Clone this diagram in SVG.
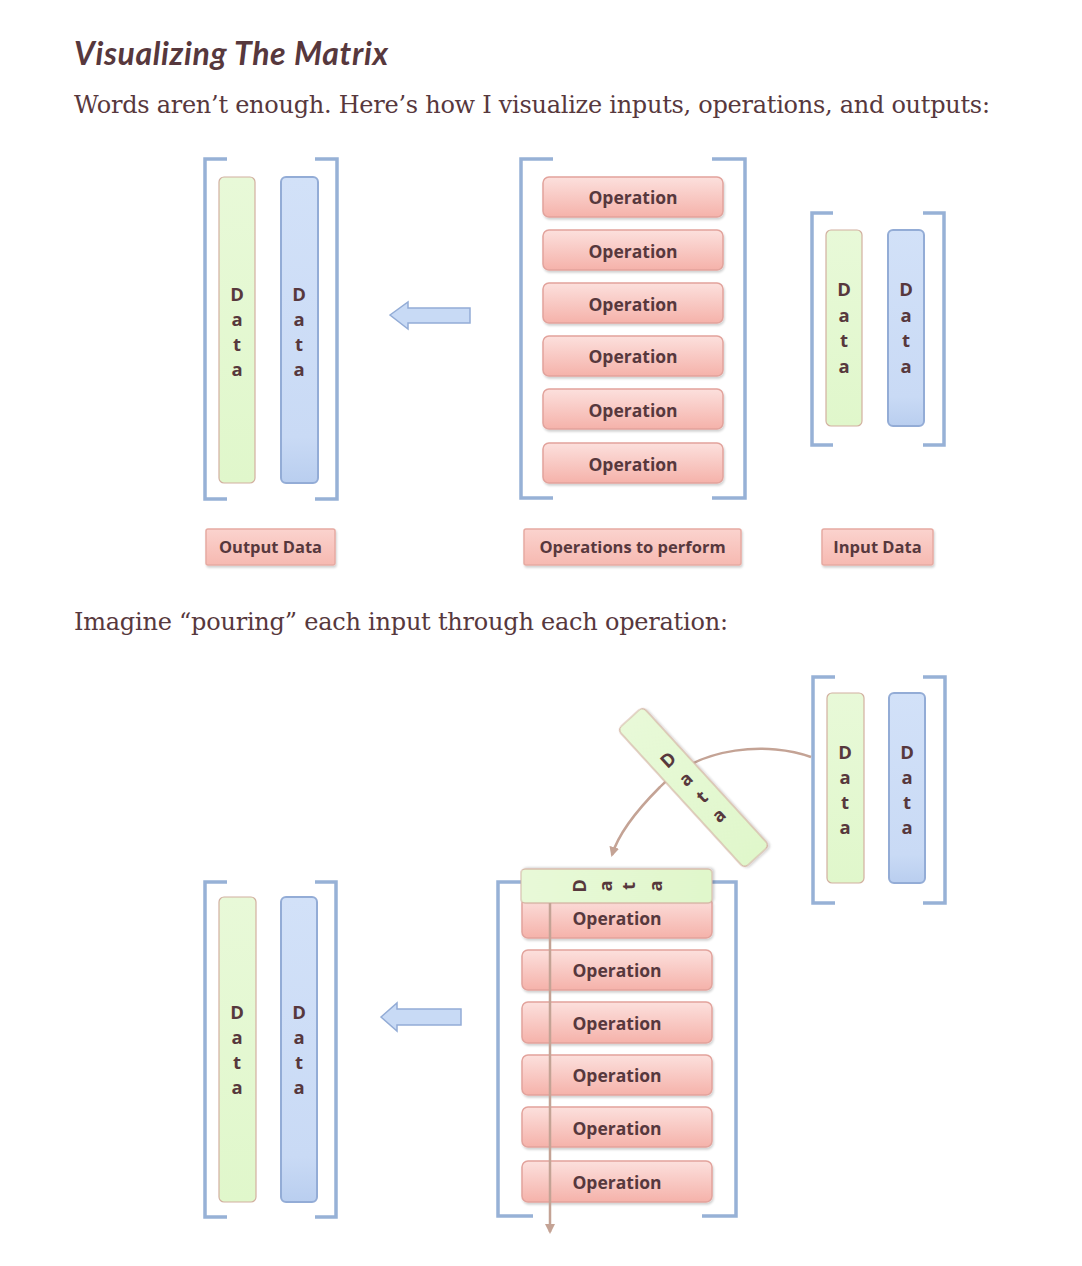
<svg xmlns="http://www.w3.org/2000/svg" width="1082" height="1266" viewBox="0 0 1082 1266">
<defs>
<linearGradient id="opg" x1="0" y1="0" x2="0" y2="1">
<stop offset="0" stop-color="#fce0dd"/><stop offset="1" stop-color="#f5b2aa"/>
</linearGradient>
<linearGradient id="lbg" x1="0" y1="0" x2="0" y2="1">
<stop offset="0" stop-color="#fbd3ce"/><stop offset="1" stop-color="#f6b9b1"/>
</linearGradient>
<linearGradient id="blg" x1="0" y1="0" x2="0" y2="1">
<stop offset="0" stop-color="#d2e1f8"/><stop offset="0.85" stop-color="#c9daf5"/><stop offset="1" stop-color="#b9ceef"/>
</linearGradient>
<linearGradient id="grg" x1="0" y1="0" x2="0" y2="1">
<stop offset="0" stop-color="#e8f9d8"/><stop offset="1" stop-color="#e0f7cb"/>
</linearGradient>
<filter id="sh" x="-20%" y="-20%" width="140%" height="140%">
<feDropShadow dx="1" dy="2" stdDeviation="1.2" flood-color="#000" flood-opacity="0.18"/>
</filter>
<marker id="ah" viewBox="0 0 10 10" refX="8" refY="5" markerWidth="4" markerHeight="4" orient="auto" markerUnits="strokeWidth">
<path d="M0,0 L10,5 L0,10 z" fill="#c4a395"/>
</marker>
</defs>
<style>
.h1{font-family:Lato,"Open Sans","Liberation Sans",sans-serif;font-style:italic;font-weight:700;font-size:32px;fill:#57383d}
.p{font-family:"DejaVu Serif","Liberation Serif",serif;font-size:24px;fill:#57383d}
.brk{fill:none;stroke:#97b1d6;stroke-width:3.5}
.grn{fill:url(#grg);stroke:#d2b0a0;stroke-width:1.2}
.blu{fill:url(#blg);stroke:#93acd6;stroke-width:2}
.op{fill:url(#opg);stroke:#e2a39c;stroke-width:1.5;filter:url(#sh)}
.lb{fill:url(#lbg);stroke:#e6aaa2;stroke-width:1.5;filter:url(#sh)}
.t{font-family:"Open Sans","Liberation Sans",sans-serif;font-weight:700;font-size:17.5px;fill:#57383d;text-anchor:middle}
.d{font-family:"Open Sans","Liberation Sans",sans-serif;font-weight:700;font-size:18.5px;fill:#57383d;text-anchor:middle}
.lt{font-family:"Open Sans","Liberation Sans",sans-serif;font-weight:700;font-size:16.5px;fill:#57383d;text-anchor:middle}
.arr{fill:#c8daf5;stroke:#93acd6;stroke-width:1.5}
.con{fill:none;stroke:#c4a395;stroke-width:2.5}
</style>
<rect width="1082" height="1266" fill="#ffffff"/>

<text class="h1" x="74" y="65" textLength="314">Visualizing The Matrix</text>
<text class="p" x="74" y="113" textLength="916">Words aren’t enough. Here’s how I visualize inputs, operations, and outputs:</text>
<text class="p" x="74" y="630" textLength="654">Imagine “pouring” each input through each operation:</text>

<!-- Top: output data -->
<g id="top-output">
<path class="brk" d="M227,159 H205 V499 H227"/>
<path class="brk" d="M315,159 H337 V499 H315"/>
<rect class="grn" x="219" y="177" width="36" height="306" rx="5"/>
<rect class="blu" x="281" y="177" width="37" height="306" rx="5"/>
<text class="d" x="237" y="301">D<tspan x="237" dy="25">a</tspan><tspan x="237" dy="25">t</tspan><tspan x="237" dy="25">a</tspan></text>
<text class="d" x="299" y="301">D<tspan x="299" dy="25">a</tspan><tspan x="299" dy="25">t</tspan><tspan x="299" dy="25">a</tspan></text>
</g>
<g id="top-arrow">
<polygon class="arr" points="390,315 408,302 408,308 470,308 470,323 408,323 408,329"/>
</g>

<!-- Top: operations -->
<g id="top-operations">
<path class="brk" d="M553,159 H521 V498 H553"/>
<path class="brk" d="M712,159 H745 V498 H712"/>
<rect class="op" x="543" y="177" width="180" height="40" rx="6"/>
<rect class="op" x="543" y="230" width="180" height="40" rx="6"/>
<rect class="op" x="543" y="283" width="180" height="40" rx="6"/>
<rect class="op" x="543" y="336" width="180" height="40" rx="6"/>
<rect class="op" x="543" y="389" width="180" height="40" rx="6"/>
<rect class="op" x="543" y="443" width="180" height="40" rx="6"/>
<text class="t" x="633" y="204">Operation</text>
<text class="t" x="633" y="258">Operation</text>
<text class="t" x="633" y="311">Operation</text>
<text class="t" x="633" y="363">Operation</text>
<text class="t" x="633" y="417">Operation</text>
<text class="t" x="633" y="471">Operation</text>
</g>

<!-- Top: input data -->
<g id="top-input">
<path class="brk" d="M833,213 H812 V445 H833"/>
<path class="brk" d="M923,213 H944 V445 H923"/>
<rect class="grn" x="826" y="230" width="36" height="196" rx="5"/>
<rect class="blu" x="888" y="230" width="36" height="196" rx="5"/>
<text class="d" x="844" y="296">D<tspan x="844" dy="25.5">a</tspan><tspan x="844" dy="25.5">t</tspan><tspan x="844" dy="25.5">a</tspan></text>
<text class="d" x="906" y="296">D<tspan x="906" dy="25.5">a</tspan><tspan x="906" dy="25.5">t</tspan><tspan x="906" dy="25.5">a</tspan></text>
</g>

<!-- Labels -->
<g id="label-output">
<rect class="lb" x="206" y="529" width="129" height="36" rx="2"/>
<text class="lt" x="270.5" y="553">Output Data</text>
</g>
<g id="label-operations">
<rect class="lb" x="524" y="529" width="217" height="36" rx="2"/>
<text class="lt" x="632.5" y="553">Operations to perform</text>
</g>
<g id="label-input">
<rect class="lb" x="822" y="529" width="111" height="36" rx="2"/>
<text class="lt" x="877.5" y="553">Input Data</text>
</g>

<!-- Bottom: output data -->
<g id="bottom-output">
<path class="brk" d="M227,882 H205 V1217 H227"/>
<path class="brk" d="M315,882 H336 V1217 H315"/>
<rect class="grn" x="219" y="897" width="37" height="305" rx="5"/>
<rect class="blu" x="281" y="897" width="36" height="305" rx="5"/>
<text class="d" x="237" y="1019">D<tspan x="237" dy="25">a</tspan><tspan x="237" dy="25">t</tspan><tspan x="237" dy="25">a</tspan></text>
<text class="d" x="299" y="1019">D<tspan x="299" dy="25">a</tspan><tspan x="299" dy="25">t</tspan><tspan x="299" dy="25">a</tspan></text>
</g>
<g id="bottom-arrow">
<polygon class="arr" points="381,1017 397,1003 397,1009 461,1009 461,1025 397,1025 397,1031"/>
</g>

<!-- Bottom: input data -->
<g id="bottom-input">
<path class="brk" d="M835,677 H813 V903 H835"/>
<path class="brk" d="M923,677 H945 V903 H923"/>
<rect class="grn" x="827" y="693" width="37" height="190" rx="5"/>
<rect class="blu" x="889" y="693" width="36" height="190" rx="5"/>
<text class="d" x="845" y="759">D<tspan x="845" dy="25">a</tspan><tspan x="845" dy="25">t</tspan><tspan x="845" dy="25">a</tspan></text>
<text class="d" x="907" y="759">D<tspan x="907" dy="25">a</tspan><tspan x="907" dy="25">t</tspan><tspan x="907" dy="25">a</tspan></text>
</g>

<!-- Bottom: operations -->
<g id="bottom-operations">
<path class="brk" d="M533,882 H498 V1216 H533"/>
<path class="brk" d="M702,882 H736 V1216 H702"/>
<rect class="op" x="522" y="897" width="190" height="41" rx="6"/>
<rect class="op" x="522" y="950" width="190" height="40" rx="6"/>
<rect class="op" x="522" y="1002" width="190" height="41" rx="6"/>
<rect class="op" x="522" y="1055" width="190" height="40" rx="6"/>
<rect class="op" x="522" y="1107" width="190" height="40" rx="6"/>
<rect class="op" x="522" y="1161" width="190" height="41" rx="6"/>
<text class="t" x="617" y="925">Operation</text>
<text class="t" x="617" y="977">Operation</text>
<text class="t" x="617" y="1030">Operation</text>
<text class="t" x="617" y="1082">Operation</text>
<text class="t" x="617" y="1135">Operation</text>
<text class="t" x="617" y="1189">Operation</text>
</g>

<!-- Data column poured on top of the operations -->
<g id="data-header" transform="translate(616.5,886) rotate(-90)">
<rect class="grn" x="-17" y="-95.5" width="34" height="191" rx="4" filter="url(#sh)"/>
<text class="d" x="0" y="-31">D<tspan x="0" dy="26">a</tspan><tspan x="0" dy="23">t</tspan><tspan x="0" dy="27">a</tspan></text>
</g>

<!-- Connectors -->
<g id="connectors">
<path class="con" d="M811,757 C770,742 700,745 660,787 C635,812 618,835 612,855" marker-end="url(#ah)"/>
<path class="con" d="M550,903 V1232" marker-end="url(#ah)"/>
</g>

<!-- Data column being moved -->
<g id="data-moving" transform="translate(693.5,787.5) rotate(-42.4)">
<rect class="grn" x="-17" y="-94" width="34" height="188" rx="5" filter="url(#sh)"/>
<text class="d" x="0" y="-31">D<tspan x="0" dy="26">a</tspan><tspan x="0" dy="24">t</tspan><tspan x="0" dy="25">a</tspan></text>
</g>
</svg>
